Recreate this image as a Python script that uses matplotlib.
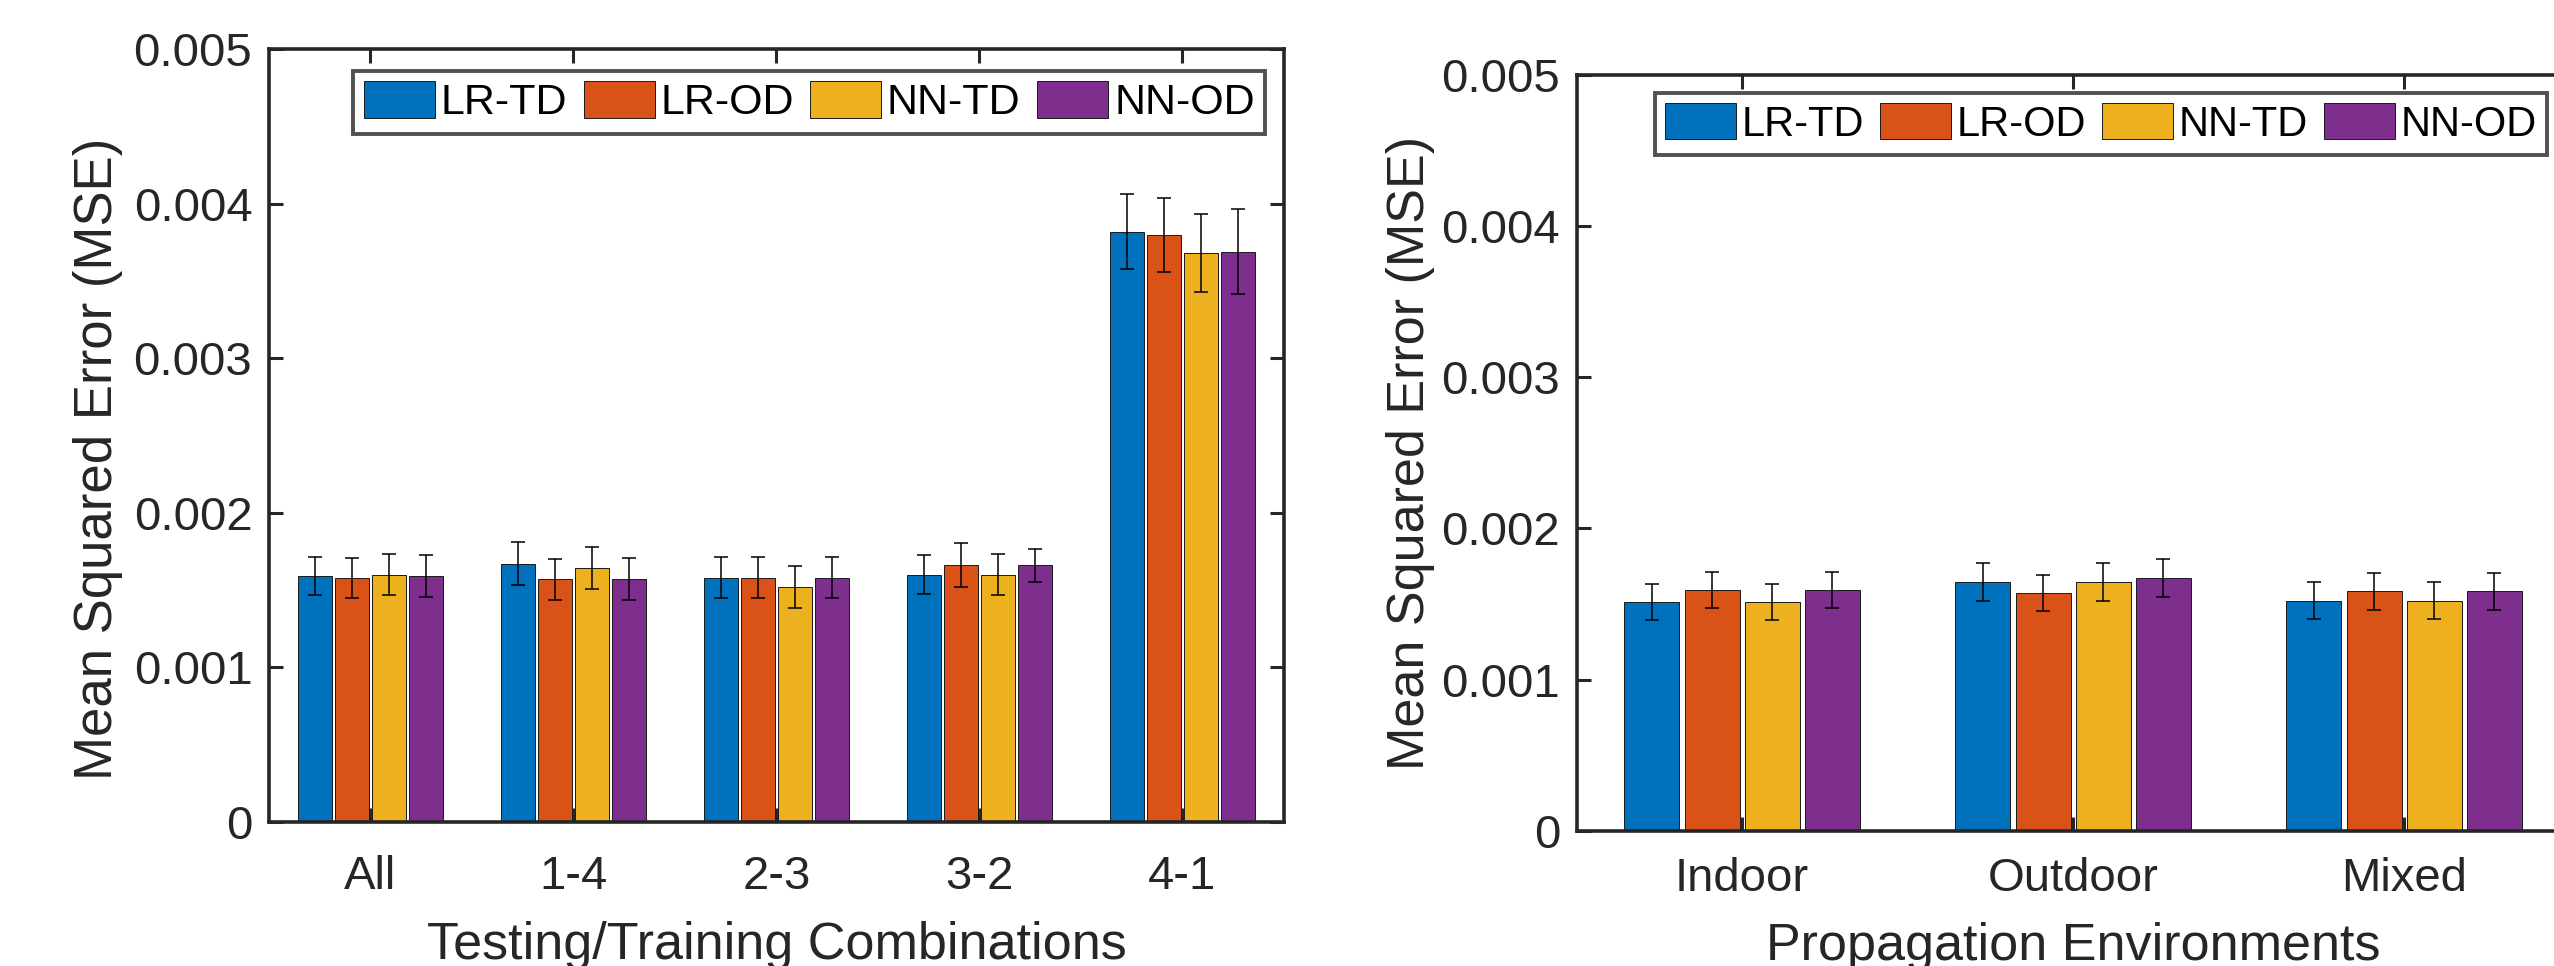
import numpy as np
import matplotlib
matplotlib.use("Agg")
import matplotlib.pyplot as plt

plt.rcParams['font.family'] = ['Liberation Sans', 'DejaVu Sans']

series_names = ["LR-TD", "LR-OD", "NN-TD", "NN-OD"]
colors = ["#0072BD", "#D95319", "#EDB120", "#7E2F8E"]

# left panel: testing/training combinations
combo_labels = ["All", "1-4", "2-3", "3-2", "4-1"]
combo_mse = [
    [0.00159, 0.00167, 0.00158, 0.00160, 0.00382],  # LR-TD
    [0.00158, 0.00157, 0.00158, 0.00166, 0.00380],  # LR-OD
    [0.00160, 0.00164, 0.00152, 0.00160, 0.00368],  # NN-TD
    [0.00159, 0.00157, 0.00158, 0.00166, 0.00369],  # NN-OD
]
combo_err = [
    [0.000123, 0.000139, 0.000135, 0.000129, 0.000240],
    [0.000129, 0.000133, 0.000135, 0.000143, 0.000240],
    [0.000133, 0.000135, 0.000135, 0.000133, 0.000251],
    [0.000135, 0.000137, 0.000131, 0.000107, 0.000274],
]

# right panel: propagation environments
env_labels = ["Indoor", "Outdoor", "Mixed"]
env_mse = [
    [0.001513, 0.001644, 0.001522],
    [0.001591, 0.001574, 0.001583],
    [0.001513, 0.001644, 0.001522],
    [0.001591, 0.001672, 0.001583],
]
env_err = [
    [0.000118, 0.000124, 0.000122],
    [0.000120, 0.000120, 0.000124],
    [0.000118, 0.000124, 0.000122],
    [0.000120, 0.000124, 0.000124],
]

yticks = [0, 0.001, 0.002, 0.003, 0.004, 0.005]
ytick_labels = ["0", "0.001", "0.002", "0.003", "0.004", "0.005"]

AX_COLOR = "#262626"
TICK_FS = 34
LABEL_FS = 37.5


def grouped_bars(ax, labels, values, errors, xlabel, legend_anchor, legend_fs,
                 ylabel_fs, ylabel_pos, xpad, xlabelpad):
    n = len(values)
    x = np.arange(1, len(labels) + 1)
    slot = 0.727 / n
    width = 0.166
    for i in range(n):
        pos = x + (i - (n - 1) / 2) * slot
        ax.bar(pos, values[i], width, color=colors[i], edgecolor="#1a1a1a",
               linewidth=0.7, label=series_names[i], zorder=2)
        ax.errorbar(pos, values[i], yerr=errors[i], fmt="none", ecolor="black",
                    elinewidth=1.1, capsize=5.3, capthick=1.1, zorder=3)
    ax.set_xlim(0.5, len(labels) + 0.5)
    ax.set_ylim(0, 0.005)
    ax.set_xticks(x)
    ax.set_xticklabels(labels)
    ax.set_yticks(yticks)
    ax.set_yticklabels(ytick_labels)
    ax.tick_params(axis="both", direction="in", length=10, width=2.2,
                   colors=AX_COLOR, labelsize=TICK_FS, top=True, right=True)
    ax.tick_params(axis="y", pad=12)
    ax.tick_params(axis="x", pad=xpad)
    for s in ax.spines.values():
        s.set_linewidth(2.6)
        s.set_color(AX_COLOR)
    ax.set_xlabel(xlabel, fontsize=LABEL_FS, color=AX_COLOR, labelpad=xlabelpad)
    ax.set_ylabel("Mean Squared Error (MSE)", fontsize=ylabel_fs, color=AX_COLOR)
    ax.yaxis.set_label_coords(*ylabel_pos)
    fs_px = legend_fs * 100 / 72
    leg = ax.legend(loc="upper right", bbox_to_anchor=legend_anchor, ncol=4,
                    fontsize=legend_fs, frameon=True, fancybox=False,
                    handlelength=71 / fs_px, handleheight=40 / fs_px,
                    handletextpad=0.13, columnspacing=0.39, borderpad=0.24,
                    borderaxespad=0)
    leg.get_frame().set_edgecolor(AX_COLOR)
    leg.get_frame().set_linewidth(2.8)
    leg.set_zorder(5)


fig = plt.figure(figsize=(25.54, 9.66), dpi=100)
ax1 = fig.add_axes([0.10532, 0.14938, 0.3974, 0.7996])
ax2 = fig.add_axes([0.61734, 0.14006, 0.3888, 0.7823])

grouped_bars(ax1, combo_labels, combo_mse, combo_err,
             "Testing/Training Combinations", (0.9813, 0.972), 31,
             38, (-0.144, 0.47), 24, 16)
grouped_bars(ax2, env_labels, env_mse, env_err,
             "Propagation Environments", (0.9772, 0.976), 30,
             37.5, (-0.143, 0.5), 19, 15)

fig.savefig("out.png", dpi=100)
plt.close(fig)
